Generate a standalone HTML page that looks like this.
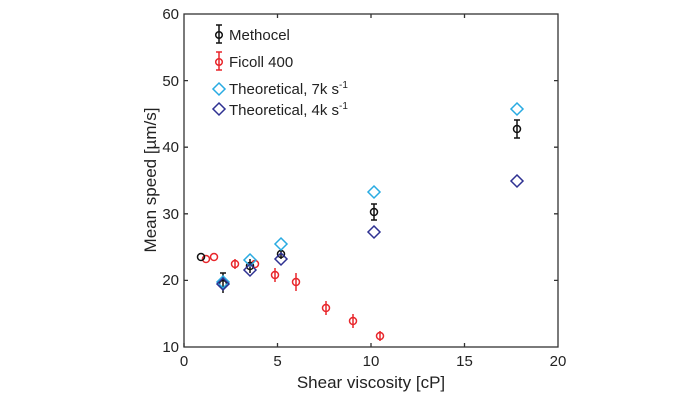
<!DOCTYPE html>
<html><head><style>body{margin:0;background:#fff}svg{display:block}text{font-family:"Liberation Sans",sans-serif;fill:#222}</style></head><body>
<svg width="700" height="400" viewBox="0 0 700 400">
<g stroke="#333" stroke-width="1.3" fill="none">
<rect x="184" y="14" width="374" height="333"/>
<path d="M184,347v-4M277.5,347v-4M371,347v-4M464.5,347v-4M277.5,14v4M371,14v4M464.5,14v4M184,280.4h4M184,213.8h4M184,147.2h4M184,80.6h4M558,280.4h-4M558,213.8h-4M558,147.2h-4M558,80.6h-4"/>
</g>
<g font-size="15" text-anchor="middle">
<text x="184" y="366">0</text><text x="277.5" y="366">5</text><text x="371" y="366">10</text><text x="464.5" y="366">15</text><text x="558" y="366">20</text>
</g>
<g font-size="15" text-anchor="end">
<text x="179" y="352">10</text><text x="179" y="285">20</text><text x="179" y="219">30</text><text x="179" y="152">40</text><text x="179" y="86">50</text><text x="179" y="19">60</text>
</g>
<text x="371" y="388" font-size="17" text-anchor="middle">Shear viscosity [cP]</text>
<text transform="translate(156,180) rotate(-90)" font-size="17" text-anchor="middle">Mean speed [µm/s]</text>
<g stroke="#e8262b" stroke-width="1.5" fill="none">
<circle cx="206" cy="259" r="3.5"/><circle cx="214" cy="257" r="3.5"/><circle cx="235" cy="264" r="3.5"/><path d="M235,259v10"/>
<circle cx="255" cy="264" r="3.5"/><circle cx="275" cy="275" r="3.5"/><path d="M275,268v14"/>
<circle cx="296" cy="282" r="3.5"/><path d="M296,273v18"/>
<circle cx="326" cy="308" r="3.5"/><path d="M326,301v14"/>
<circle cx="353" cy="321" r="3.5"/><path d="M353,314v14"/>
<circle cx="380" cy="336" r="3.5"/><path d="M380,331v10"/>
</g>
<g stroke="#111" stroke-width="1.5" fill="none">
<circle cx="201" cy="257" r="3.5"/><circle cx="223" cy="284" r="3.5"/><path d="M223,273v20M220,273h6"/>
<circle cx="250" cy="266" r="3.5"/><path d="M250,259v14"/>
<circle cx="281" cy="254" r="3.5"/><path d="M281,249v10"/>
<circle cx="374" cy="212" r="3.5"/><path d="M374,204v16M371,204h6M371,220h6"/>
<circle cx="517" cy="129" r="3.5"/><path d="M517,120v18M514,120h6M514,138h6"/>
</g>
<g stroke="#29abe2" stroke-width="1.5" fill="none">
<path d="M223,276l6,6l-6,6l-6,-6z"/><path d="M250,254l6,6l-6,6l-6,-6z"/><path d="M281,238l6,6l-6,6l-6,-6z"/><path d="M374,186l6,6l-6,6l-6,-6z"/><path d="M517,103l6,6l-6,6l-6,-6z"/>
</g>
<g stroke="#2e3192" stroke-width="1.5" fill="none">
<path d="M223,278l6,6l-6,6l-6,-6z"/><path d="M250,264l6,6l-6,6l-6,-6z"/><path d="M281,253l6,6l-6,6l-6,-6z"/><path d="M374,226l6,6l-6,6l-6,-6z"/><path d="M517,175l6,6l-6,6l-6,-6z"/>
</g>
<g stroke-width="1.5" fill="none">
<g stroke="#111"><circle cx="219" cy="35" r="3.3"/><path d="M219,25v18M216,25h6M216,43h6"/></g>
<g stroke="#e8262b"><circle cx="219" cy="62" r="3.3"/><path d="M219,52v18M216,52h6M216,70h6"/></g>
<path stroke="#29abe2" d="M219,83l6,6l-6,6l-6,-6z"/>
<path stroke="#2e3192" d="M219,103l6,6l-6,6l-6,-6z"/>
</g>
<g font-size="15">
<text x="229" y="40">Methocel</text>
<text x="229" y="67">Ficoll 400</text>
<text x="229" y="94">Theoretical, 7k s<tspan dy="-6" font-size="10">-1</tspan></text>
<text x="229" y="115">Theoretical, 4k s<tspan dy="-6" font-size="10">-1</tspan></text>
</g>
</svg>
</body></html>
